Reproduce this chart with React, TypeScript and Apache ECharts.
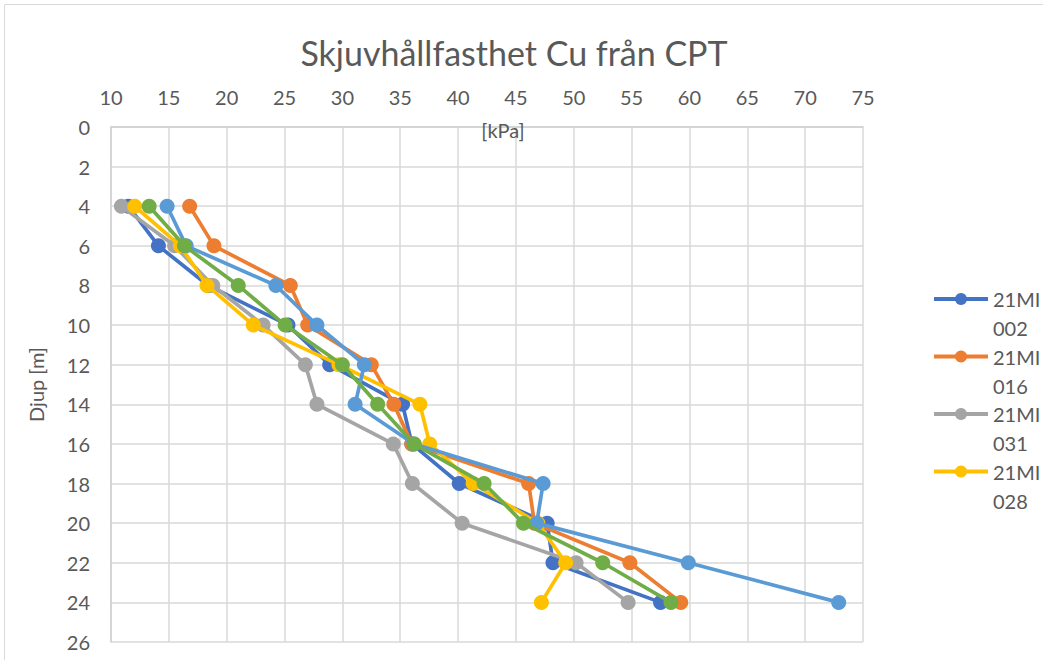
import React, { useEffect, useRef } from "react";
import * as echarts from "echarts";

const depths = [4, 6, 8, 10, 12, 14, 16, 18, 20, 22, 24];
const s002 = [11.5, 14.1, 18.4, 25.3, 28.9, 35.2, 36.0, 40.1, 47.7, 48.2, 57.5];
const s016 = [16.8, 18.9, 25.5, 27.0, 32.5, 34.45, 36.0, 46.1, 46.6, 54.85, 59.25];
const s031 = [10.9, 15.5, 18.8, 23.15, 26.8, 27.8, 34.4, 36.05, 40.35, 50.2, 54.7];
const s028 = [12.05, 16.0, 18.3, 22.3, 29.7, 36.7, 37.55, 41.3, 46.9, 49.3, 47.2];
const sLightBlue = [14.85, 16.5, 24.25, 27.8, 31.9, 31.1, 36.2, 47.35, 46.8, 59.9, 72.9];
const sGreen = [13.3, 16.35, 21.0, 25.05, 30.0, 33.05, 36.2, 42.25, 45.65, 52.5, 58.4];

const seriesNames = ["21MI 002", "21MI 016", "21MI 031", "21MI 028", "Serie 5", "Serie 6"];
const seriesValues = [s002, s016, s031, s028, sLightBlue, sGreen];
const seriesColors = ["#4472C4", "#ED7D31", "#A5A5A5", "#FFC000", "#5B9BD5", "#70AD47"];
const legendNames = ["21MI 002", "21MI 016", "21MI 031", "21MI 028"];

const FONT = "Lato, 'Noto Sans', sans-serif";
const TXT = "#595959";

export default function App() {
  const ref = useRef<HTMLDivElement>(null);
  useEffect(() => {
    if (!ref.current) return;
    const chart = echarts.init(ref.current, null, { renderer: "svg" });
    const series = seriesNames.map((name, i) => ({
      name,
      type: "line",
      data: seriesValues[i].map((v, j) => [v, depths[j]]),
      symbol: "circle",
      symbolSize: 15,
      lineStyle: { width: 3.7, color: seriesColors[i] },
      itemStyle: { color: seriesColors[i] },
      z: 2 + i,
    }));
    const legends = legendNames.map((n, i) => ({
      data: [n],
      left: 927,
      top: 294 - 29 - 14.5 + i * 57.5,
      orient: "vertical",
      itemWidth: 54,
      itemHeight: 15,
      lineStyle: { width: 4 },
      formatter: (name: string) => "\n" + name.replace(" ", "\n"),
      textStyle: { fontFamily: FONT, fontSize: 20, color: TXT, lineHeight: 29 },
      selectedMode: false,
    }));
    chart.setOption({
      animation: false,
      backgroundColor: "#ffffff",
      grid: { left: 111, right: 180, top: 127, bottom: 18, containLabel: false },
      legend: legends,
      xAxis: {
        type: "value",
        position: "top",
        min: 10,
        max: 75,
        interval: 5,
        axisLine: { show: true, lineStyle: { color: "#d0d0d0", width: 1.5 } },
        axisTick: { show: false },
        axisLabel: { fontFamily: FONT, fontSize: 20, color: TXT, margin: 20 },
        splitLine: { show: true, lineStyle: { color: "#d9d9d9", width: 1.5 } },
      },
      yAxis: {
        type: "value",
        inverse: true,
        min: 0,
        max: 26,
        interval: 2,
        name: "Djup [m]",
        nameLocation: "middle",
        nameRotate: 90,
        nameGap: 65,
        nameTextStyle: { fontFamily: FONT, fontSize: 20, color: TXT },
        axisLine: { show: true, lineStyle: { color: "#d0d0d0", width: 1.5 } },
        axisTick: { show: false },
        axisLabel: { fontFamily: FONT, fontSize: 20, color: TXT, margin: 21 },
        splitLine: { show: true, lineStyle: { color: "#d9d9d9", width: 1.5 } },
      },
      graphic: [
        {
          type: "rect",
          shape: { x: 4.5, y: 4.5, width: 1100, height: 700 },
          style: { fill: "none", stroke: "#d9d9d9", lineWidth: 1 },
          silent: true,
        },
        {
          type: "text",
          x: 514,
          y: 52,
          style: {
            text: "Skjuvhållfasthet Cu från CPT",
            fontFamily: FONT,
            fontSize: 34,
            fill: TXT,
            textAlign: "center",
            textVerticalAlign: "middle",
          },
        },
        {
          type: "text",
          x: 503,
          y: 130,
          z: 1,
          style: {
            text: "[kPa]",
            fontFamily: FONT,
            fontSize: 20,
            fill: TXT,
            textAlign: "center",
            textVerticalAlign: "middle",
          },
        },
      ],
      series,
    });
    return () => chart.dispose();
  }, []);
  return (
    <div
      ref={ref}
      style={{ position: "absolute", left: 0, top: 0, width: 1043, height: 660, background: "#fff" }}
    />
  );
}
